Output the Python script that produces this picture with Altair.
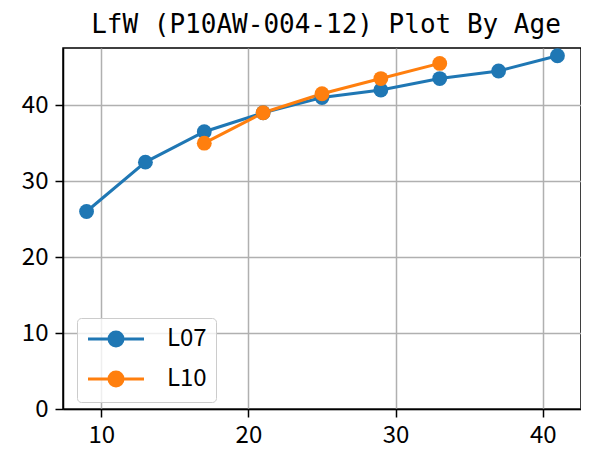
import altair as alt
import pandas as pd

ages_l07 = [9, 13, 17, 21, 25, 29, 33, 37, 41]
vals_l07 = [26, 32.5, 36.5, 39, 41, 42, 43.5, 44.5, 46.5]
ages_l10 = [17, 21, 25, 29, 33]
vals_l10 = [35, 39, 41.5, 43.5, 45.5]
series = ["L07", "L10"]
colors = ["#1f77b4", "#ff7f0e"]
x_ticks = [10, 20, 30, 40]
y_ticks = [0, 10, 20, 30, 40]
title_text = "LfW (P10AW-004-12) Plot By Age"

df = pd.DataFrame(
    {"age": ages_l07 + ages_l10,
     "value": vals_l07 + vals_l10,
     "series": [series[0]] * len(ages_l07) + [series[1]] * len(ages_l10)}
)

tick_font = "Noto Sans CJK SC"

x = alt.X("age:Q", scale=alt.Scale(domain=[7.4, 42.6], nice=False, zero=False),
          axis=alt.Axis(values=x_ticks, title=None, labelPadding=6))
y = alt.Y("value:Q", scale=alt.Scale(domain=[0, 47.525], nice=False),
          axis=alt.Axis(values=y_ticks, title=None, labelPadding=7))

# legend glyph: a line with a filled dot (dot drawn as concentric strokes)
legend_symbol = ("M-1,0H4.6"
                 " M1.65,0A0.15,0.15 0 1,1 1.95,0A0.15,0.15 0 1,1 1.65,0"
                 " M1.35,0A0.45,0.45 0 1,1 2.25,0A0.45,0.45 0 1,1 1.35,0"
                 " M1.1,0A0.7,0.7 0 1,1 2.5,0A0.7,0.7 0 1,1 1.1,0")

color = alt.Color("series:N", scale=alt.Scale(domain=series, range=colors),
                  legend=alt.Legend(title=None, orient="none", legendX=14, legendY=270,
                                    symbolType=legend_symbol, symbolSize=400,
                                    symbolStrokeWidth=3, symbolFillColor="transparent",
                                    labelFont=tick_font, labelFontSize=24,
                                    labelOffset=57, rowPadding=12,
                                    padding=9, fillColor="rgba(255,255,255,0.8)",
                                    strokeColor="#cccccc", cornerRadius=4))

base = alt.Chart(df)
lines = base.mark_line(strokeWidth=3).encode(x=x, y=y, color=color)
points = base.mark_point(filled=True, size=220, opacity=1).encode(
    x=x, y=y, color=alt.Color("series:N", scale=alt.Scale(domain=series, range=colors), legend=None))

chart = alt.layer(lines, points).properties(
    width=518, height=361,
    title=alt.TitleParams(title_text, font="DejaVu Sans Mono", fontSize=26,
                          fontWeight="normal", anchor="middle", baseline="bottom",
                          offset=6, dy=22, dx=4, frame="group", color="black"),
    autosize=alt.AutoSizeParams(type="none"),
    padding={"left": 55, "top": 40, "right": 0, "bottom": 38},
).configure_view(stroke="black", strokeWidth=1.5).configure_axis(
    domainColor="black", domainWidth=1.5, tickColor="black", tickWidth=1.5, tickSize=8,
    gridColor="#b0b0b0", gridWidth=1.5, labelFont=tick_font, labelFontSize=24,
    labelColor="black", grid=True,
)

chart.save("out.html", embed_options={"renderer": "svg", "actions": False})
